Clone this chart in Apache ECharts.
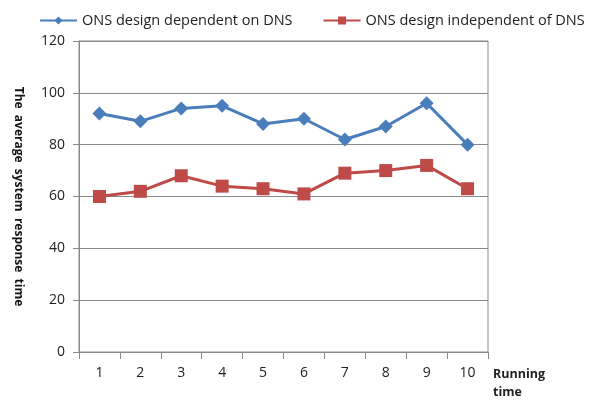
<!DOCTYPE html>
<html><head><meta charset="utf-8">
<script src="https://cdn.jsdelivr.net/npm/echarts@6/dist/echarts.min.js"></script>
<style>html,body{margin:0;padding:0;background:#fff}#c{width:595px;height:401px}</style>
</head><body><div id="c"></div>
<script>
var categories = ['1','2','3','4','5','6','7','8','9','10'];
var dependentValues = [92, 89, 94, 95, 88, 90, 82, 87, 96, 80];
var independentValues = [60, 62, 68, 64, 63, 61, 69, 70, 72, 63];
var seriesNames = ['ONS design dependent on DNS', 'ONS design independent of DNS'];
var yTicks = [0, 20, 40, 60, 80, 100, 120];

var font = '"Open Sans", sans-serif';
var chart = echarts.init(document.getElementById('c'), null, {renderer: 'canvas'});
chart.setOption({
  animation: false,
  textStyle: {fontFamily: font},
  legend: {
    left: 34, top: 8,
    itemWidth: 37, itemHeight: 10, itemGap: 30,
    textStyle: {fontFamily: font, fontSize: 14.5, color: '#222'},
    data: seriesNames
  },
  grid: {left: 79, right: 107, top: 41, bottom: 48, show: true, borderColor: '#8a8a8a', borderWidth: 1},
  xAxis: {
    type: 'category', data: categories, boundaryGap: true,
    axisLine: {lineStyle: {color: '#8a8a8a'}},
    axisTick: {show: true, length: 7, lineStyle: {color: '#8a8a8a'}},
    axisLabel: {fontFamily: font, fontSize: 14, color: '#222', margin: 14},
    name: 'Running\ntime', nameLocation: 'end', nameGap: 5,
    nameTextStyle: {fontFamily: font, fontSize: 12.5, fontWeight: 'bold', color: '#222', align: 'left', verticalAlign: 'top', lineHeight: 18, padding: [13, 0, 0, 0]}
  },
  yAxis: {
    type: 'value', min: 0, max: 120, interval: 20,
    axisLine: {show: true, lineStyle: {color: '#8a8a8a'}},
    axisTick: {show: true, length: 6, lineStyle: {color: '#8a8a8a'}},
    splitLine: {lineStyle: {color: '#8a8a8a'}},
    axisLabel: {fontFamily: font, fontSize: 14, color: '#222', margin: 14,
      formatter: function (v) { return yTicks.indexOf(v) >= 0 ? String(v) : ''; }},
    name: 'The  average  system  response  time', nameLocation: 'middle', nameRotate: -90, nameGap: 55,
    nameTextStyle: {fontFamily: font, fontSize: 12, fontWeight: 'bold', color: '#111'}
  },
  series: [
    {name: seriesNames[0], type: 'line', data: dependentValues, symbol: 'diamond', symbolSize: 14,
     lineStyle: {color: '#4a7ebb', width: 3}, itemStyle: {color: '#4a7ebb'}},
    {name: seriesNames[1], type: 'line', data: independentValues, symbol: 'rect', symbolSize: 13,
     lineStyle: {color: '#be4b48', width: 3}, itemStyle: {color: '#be4b48'}}
  ]
});
</script></body></html>
